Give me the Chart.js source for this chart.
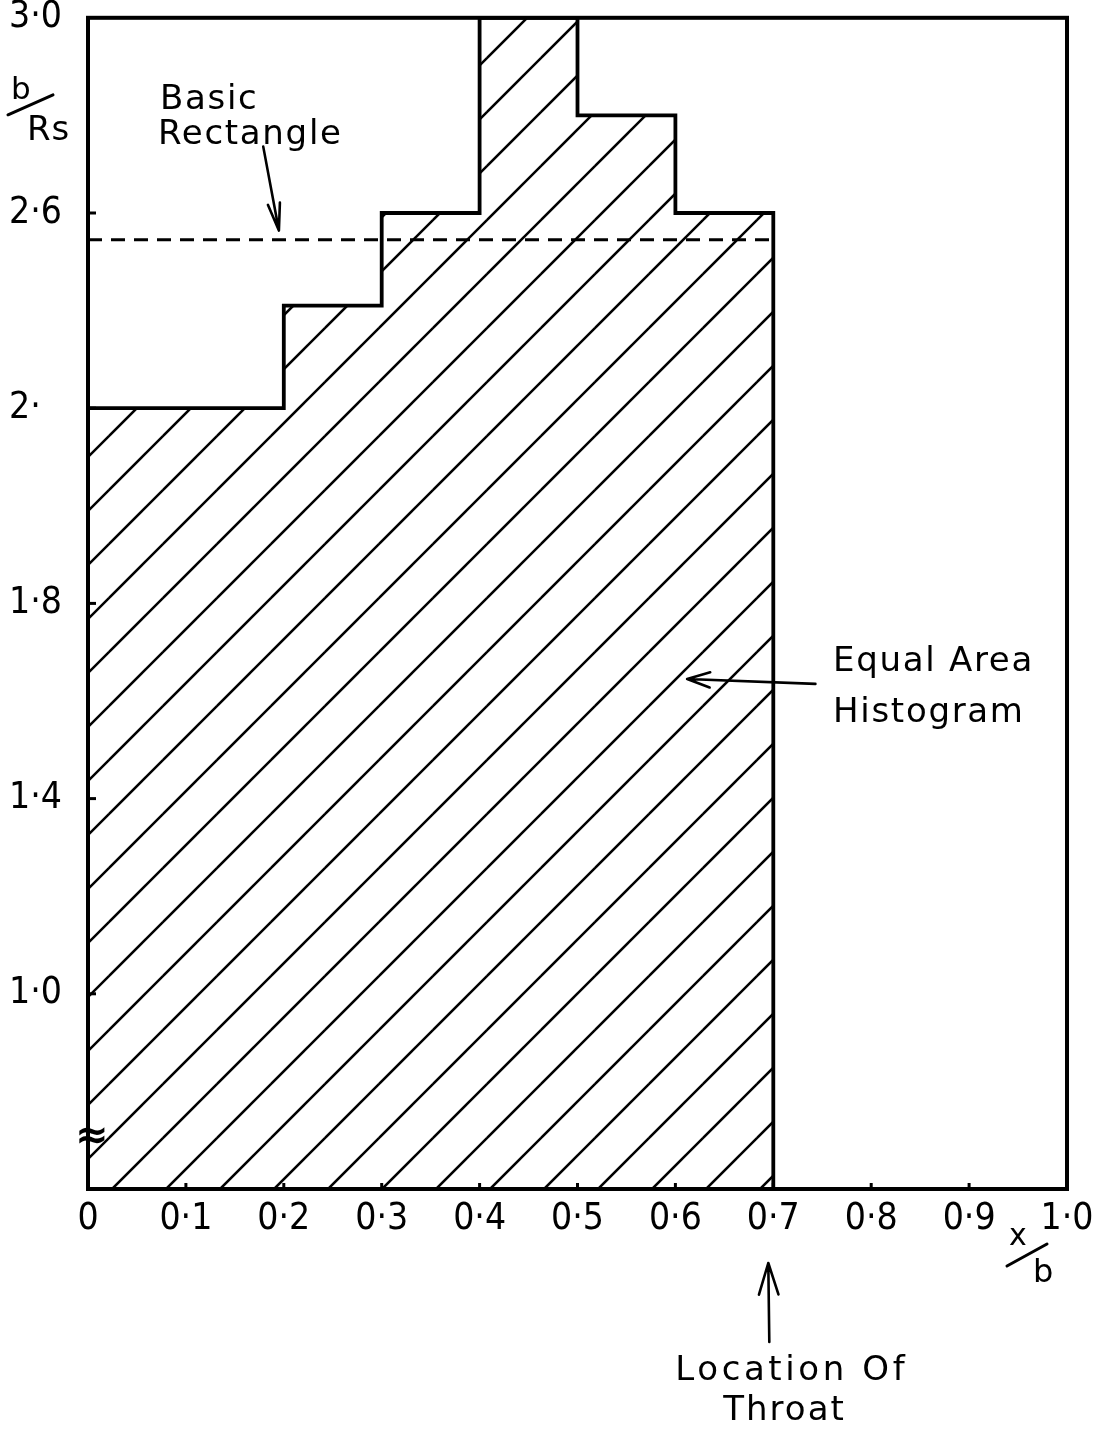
<!DOCTYPE html>
<html>
<head>
<meta charset="utf-8">
<script src="https://cdn.jsdelivr.net/npm/chart.js@4.4.1/dist/chart.umd.min.js"></script>
<style>
  html, body { margin: 0; padding: 0; background: #fff; }
  canvas { display: block; }
</style>
</head>
<body>
<canvas id="c" width="1107" height="1438"></canvas>
<script>
// Histogram bins along x/b and their heights in b/Rs
const binEdges = [0, 0.2, 0.3, 0.4, 0.5, 0.6, 0.7];
const binHeights = [2.2, 2.41, 2.6, 3.0, 2.8, 2.6];
// Height of the basic rectangle (dashed) and where the throat sits
const basicRectangle = 2.545;
const throatX = 0.7;

// Axis ticks and their printed labels
const xTickValues = [0, 0.1, 0.2, 0.3, 0.4, 0.5, 0.6, 0.7, 0.8, 0.9, 1.0];
const xTickLabels = ['0', '0·1', '0·2', '0·3', '0·4', '0·5', '0·6', '0·7', '0·8', '0·9', '1·0'];
const yTickValues = [1.0, 1.4, 1.8, 2.2, 2.6, 3.0];
const yTickLabels = ['1·0', '1·4', '1·8', '2·', '2·6', '3·0'];
const yMin = 0.6, yMax = 3.0;

const LETTER_FONT = "'DejaVu Sans', 'Noto Sans', sans-serif";
const DIGIT_FONT = "'Liberation Sans Narrow', 'DejaVu Sans Condensed', 'Liberation Sans', sans-serif";

// Outline of the equal-area histogram, closed down to the axis at the throat
const histPoints = [];
binHeights.forEach((h, i) => {
  histPoints.push({ x: binEdges[i], y: h });
  histPoints.push({ x: binEdges[i + 1], y: h });
});
histPoints.push({ x: binEdges[binEdges.length - 1], y: yMin });

const rectPoints = [
  { x: binEdges[0], y: basicRectangle },
  { x: binEdges[binEdges.length - 1], y: basicRectangle }
];

// 45 degree hatching used to fill the histogram
function makeHatch() {
  const s = 54, off = 5;
  const c = document.createElement('canvas');
  c.width = s; c.height = s;
  const g = c.getContext('2d');
  g.strokeStyle = '#000';
  g.lineWidth = 2.6;
  [off, off + s].forEach(k => {
    g.beginPath();
    g.moveTo(k + 10, -10);
    g.lineTo(-10, k + 10);
    g.stroke();
  });
  return g.createPattern(c, 'repeat');
}
const hatch = makeHatch();

function arrow(ctx, x1, y1, x2, y2, len, ang) {
  const a = Math.atan2(y2 - y1, x2 - x1);
  ctx.beginPath();
  ctx.moveTo(x1, y1);
  ctx.lineTo(x2, y2);
  ctx.moveTo(x2 - len * Math.cos(a - ang), y2 - len * Math.sin(a - ang));
  ctx.lineTo(x2, y2);
  ctx.lineTo(x2 - len * Math.cos(a + ang), y2 - len * Math.sin(a + ang));
  ctx.stroke();
}

// Box round the plot plus short inward tick marks
const framePlugin = {
  id: 'frame',
  afterDatasetsDraw(chart) {
    const { ctx, chartArea: a, scales: { x, y } } = chart;
    ctx.save();
    ctx.strokeStyle = '#000';
    ctx.lineJoin = 'miter';
    ctx.lineWidth = 4;
    ctx.strokeRect(a.left, a.top, a.right - a.left, a.bottom - a.top);
    ctx.lineWidth = 3;
    x.ticks.forEach(t => {
      if (t.value <= 0 || t.value >= 1) return;
      const px = x.getPixelForValue(t.value);
      ctx.beginPath(); ctx.moveTo(px, a.bottom); ctx.lineTo(px, a.bottom - 6); ctx.stroke();
    });
    y.ticks.forEach(t => {
      if (t.value >= yMax) return;
      const py = y.getPixelForValue(t.value);
      ctx.beginPath(); ctx.moveTo(a.left, py); ctx.lineTo(a.left + 8, py); ctx.stroke();
    });
    // axis break mark
    ctx.fillStyle = '#000';
    ctx.font = 'bold 40px ' + LETTER_FONT;
    ctx.textAlign = 'center';
    ctx.textBaseline = 'middle';
    ctx.fillText('≈', a.left + 4, y.getPixelForValue(0.706));
    ctx.restore();
  }
};

// Axis titles and the labelled arrows
const notesPlugin = {
  id: 'notes',
  afterDraw(chart) {
    const { ctx, chartArea: a, scales: { x, y } } = chart;
    const X = v => x.getPixelForValue(v), Y = v => y.getPixelForValue(v);
    ctx.save();
    ctx.fillStyle = '#000';
    ctx.strokeStyle = '#000';
    ctx.textBaseline = 'alphabetic';
    ctx.textAlign = 'left';
    ctx.lineCap = 'round';
    ctx.lineJoin = 'round';
    ctx.letterSpacing = '1.7px';
    ctx.font = '34px ' + LETTER_FONT;

    ctx.fillText('Basic', X(0.0735), Y(2.814));
    ctx.fillText('Rectangle', X(0.0715), Y(2.742));
    ctx.fillText('Equal Area', X(0.761), Y(1.662));
    ctx.fillText('Histogram', X(0.761), Y(1.556));

    const tx = X(throatX);
    ctx.letterSpacing = '3.6px';
    ctx.fillText('Location Of', tx - 98, a.bottom + 191);
    ctx.letterSpacing = '2px';
    ctx.fillText('Throat', tx - 50, a.bottom + 231);

    ctx.lineWidth = 2.6;
    arrow(ctx, X(0.179), Y(2.736), X(0.195), Y(2.564), 28, 0.22);
    arrow(ctx, X(0.743), Y(1.635), X(0.612), Y(1.645), 24, 0.32);
    arrow(ctx, tx - 4, a.bottom + 153, tx - 5, a.bottom + 74, 33, 0.3);

    // b / Rs
    ctx.letterSpacing = '0px';
    ctx.font = '31px ' + LETTER_FONT;
    ctx.fillText('b', a.left - 77, a.top + 81);
    ctx.font = '34px ' + LETTER_FONT;
    ctx.letterSpacing = '1px';
    ctx.fillText('Rs', a.left - 61, a.top + 122);
    ctx.lineWidth = 3;
    ctx.beginPath(); ctx.moveTo(a.left - 80, a.top + 97); ctx.lineTo(a.left - 35, a.top + 77); ctx.stroke();

    // x / b
    ctx.letterSpacing = '0px';
    ctx.font = '30px ' + LETTER_FONT;
    ctx.fillText('x', a.right - 58, a.bottom + 56);
    ctx.font = '32px ' + LETTER_FONT;
    ctx.fillText('b', a.right - 34, a.bottom + 93);
    ctx.beginPath(); ctx.moveTo(a.right - 60, a.bottom + 77); ctx.lineTo(a.right - 20, a.bottom + 55); ctx.stroke();
    ctx.restore();
  }
};

new Chart(document.getElementById('c'), {
  type: 'line',
  data: {
    datasets: [
      {
        label: 'Equal Area Histogram',
        data: histPoints,
        borderColor: '#000',
        borderWidth: 3.8,
        borderJoinStyle: 'miter',
        backgroundColor: hatch,
        fill: 'start',
        pointRadius: 0,
        tension: 0
      },
      {
        label: 'Basic Rectangle',
        data: rectPoints,
        borderColor: '#000',
        borderWidth: 3,
        borderDash: [14, 9],
        fill: false,
        pointRadius: 0
      }
    ]
  },
  options: {
    responsive: false,
    animation: false,
    events: [],
    layout: { padding: { left: 9, right: 40, top: 16, bottom: 0 } },
    plugins: { legend: { display: false }, tooltip: { enabled: false }, title: { display: false } },
    scales: {
      x: {
        type: 'linear',
        min: 0, max: 1,
        grid: { display: false, drawTicks: false },
        border: { display: false },
        afterBuildTicks: s => { s.ticks = xTickValues.map(v => ({ value: v })); },
        afterFit: s => { s.height = 249; },
        ticks: {
          padding: 12,
          color: '#000',
          maxRotation: 0,
          autoSkip: false,
          font: { family: DIGIT_FONT, size: 37, lineHeight: 1 },
          callback: (v, i) => xTickLabels[i]
        }
      },
      y: {
        type: 'linear',
        min: yMin, max: yMax,
        grid: { display: false, drawTicks: false },
        border: { display: false },
        afterBuildTicks: s => { s.ticks = yTickValues.map(v => ({ value: v })); },
        afterFit: s => { s.width = 79; },
        ticks: {
          color: '#000',
          crossAlign: 'far',
          autoSkip: false,
          font: { family: DIGIT_FONT, size: 37, lineHeight: 0.8 },
          callback: (v, i) => yTickLabels[i]
        }
      }
    }
  },
  plugins: [framePlugin, notesPlugin]
});
</script>
</body>
</html>
